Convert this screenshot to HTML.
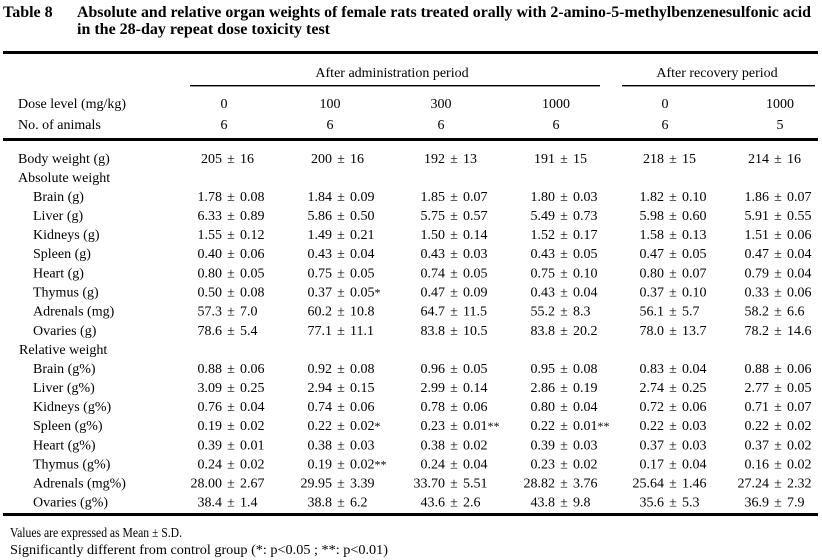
<!DOCTYPE html>
<html>
<head>
<meta charset="utf-8">
<style>
  html,body{margin:0;padding:0;background:#fff;}
  svg{display:block;}
  text{fill:#000;}
  .l{text-anchor:end;}
  .p{text-anchor:middle;}
  .s{font-size:12px;}
</style>
</head>
<body>
<svg width="822" height="560" viewBox="0 0 822 560" xmlns="http://www.w3.org/2000/svg" font-family="'Liberation Serif', serif" font-size="14">
  <rect x="0" y="0" width="822" height="560" fill="#fff"/>

  <!-- Title -->
  <text x="3" y="17" font-weight="bold" font-size="16">Table 8</text>
  <text x="77" y="17" font-weight="bold" font-size="16" textLength="734" lengthAdjust="spacingAndGlyphs">Absolute and relative organ weights of female rats treated orally with 2-amino-5-methylbenzenesulfonic acid</text>
  <text x="77" y="34" font-weight="bold" font-size="16">in the 28-day repeat dose toxicity test</text>

  <!-- Rules -->
  <rect x="3" y="51" width="815" height="3" fill="#000"/>
  <rect x="190" y="85" width="410" height="1.4" fill="#000"/>
  <rect x="622" y="85" width="193" height="1.4" fill="#000"/>
  <rect x="3" y="138" width="815" height="3" fill="#000"/>
  <rect x="3" y="513" width="815" height="3" fill="#000"/>

  <!-- Header -->
  <text x="392" y="77" class="p">After administration period</text>
  <text x="717" y="77" class="p">After recovery period</text>

  <text x="18" y="108">Dose level (mg/kg)</text>
  <text x="224" y="108" class="p">0</text>
  <text x="330" y="108" class="p">100</text>
  <text x="441" y="108" class="p">300</text>
  <text x="556" y="108" class="p">1000</text>
  <text x="665" y="108" class="p">0</text>
  <text x="780" y="108" class="p">1000</text>

  <text x="18" y="129">No. of animals</text>
  <text x="224" y="129" class="p">6</text>
  <text x="330" y="129" class="p">6</text>
  <text x="441" y="129" class="p">6</text>
  <text x="556" y="129" class="p">6</text>
  <text x="665" y="129" class="p">6</text>
  <text x="780" y="129" class="p">5</text>

  <!-- Body weight -->
  <g transform="translate(0,163)">
    <text x="18">Body weight (g)</text>
    <text x="222" class="l">205</text><text x="231" class="p">±</text><text x="240">16</text>
    <text x="332" class="l">200</text><text x="341" class="p">±</text><text x="350">16</text>
    <text x="445" class="l">192</text><text x="454" class="p">±</text><text x="463">13</text>
    <text x="555" class="l">191</text><text x="564" class="p">±</text><text x="573">15</text>
    <text x="664" class="l">218</text><text x="673" class="p">±</text><text x="682">15</text>
    <text x="769" class="l">214</text><text x="778" class="p">±</text><text x="787">16</text>
  </g>

  <text x="18" y="182">Absolute weight</text>

  <g transform="translate(0,201)">
    <text x="33">Brain (g)</text>
    <text x="222" class="l">1.78</text><text x="231" class="p">±</text><text x="240">0.08</text>
    <text x="332" class="l">1.84</text><text x="341" class="p">±</text><text x="350">0.09</text>
    <text x="445" class="l">1.85</text><text x="454" class="p">±</text><text x="463">0.07</text>
    <text x="555" class="l">1.80</text><text x="564" class="p">±</text><text x="573">0.03</text>
    <text x="664" class="l">1.82</text><text x="673" class="p">±</text><text x="682">0.10</text>
    <text x="769" class="l">1.86</text><text x="778" class="p">±</text><text x="787">0.07</text>
  </g>
  <g transform="translate(0,220)">
    <text x="33">Liver (g)</text>
    <text x="222" class="l">6.33</text><text x="231" class="p">±</text><text x="240">0.89</text>
    <text x="332" class="l">5.86</text><text x="341" class="p">±</text><text x="350">0.50</text>
    <text x="445" class="l">5.75</text><text x="454" class="p">±</text><text x="463">0.57</text>
    <text x="555" class="l">5.49</text><text x="564" class="p">±</text><text x="573">0.73</text>
    <text x="664" class="l">5.98</text><text x="673" class="p">±</text><text x="682">0.60</text>
    <text x="769" class="l">5.91</text><text x="778" class="p">±</text><text x="787">0.55</text>
  </g>
  <g transform="translate(0,239)">
    <text x="33">Kidneys (g)</text>
    <text x="222" class="l">1.55</text><text x="231" class="p">±</text><text x="240">0.12</text>
    <text x="332" class="l">1.49</text><text x="341" class="p">±</text><text x="350">0.21</text>
    <text x="445" class="l">1.50</text><text x="454" class="p">±</text><text x="463">0.14</text>
    <text x="555" class="l">1.52</text><text x="564" class="p">±</text><text x="573">0.17</text>
    <text x="664" class="l">1.58</text><text x="673" class="p">±</text><text x="682">0.13</text>
    <text x="769" class="l">1.51</text><text x="778" class="p">±</text><text x="787">0.06</text>
  </g>
  <g transform="translate(0,258)">
    <text x="33">Spleen (g)</text>
    <text x="222" class="l">0.40</text><text x="231" class="p">±</text><text x="240">0.06</text>
    <text x="332" class="l">0.43</text><text x="341" class="p">±</text><text x="350">0.04</text>
    <text x="445" class="l">0.43</text><text x="454" class="p">±</text><text x="463">0.03</text>
    <text x="555" class="l">0.43</text><text x="564" class="p">±</text><text x="573">0.05</text>
    <text x="664" class="l">0.47</text><text x="673" class="p">±</text><text x="682">0.05</text>
    <text x="769" class="l">0.47</text><text x="778" class="p">±</text><text x="787">0.04</text>
  </g>
  <g transform="translate(0,277.5)">
    <text x="33">Heart (g)</text>
    <text x="222" class="l">0.80</text><text x="231" class="p">±</text><text x="240">0.05</text>
    <text x="332" class="l">0.75</text><text x="341" class="p">±</text><text x="350">0.05</text>
    <text x="445" class="l">0.74</text><text x="454" class="p">±</text><text x="463">0.05</text>
    <text x="555" class="l">0.75</text><text x="564" class="p">±</text><text x="573">0.10</text>
    <text x="664" class="l">0.80</text><text x="673" class="p">±</text><text x="682">0.07</text>
    <text x="769" class="l">0.79</text><text x="778" class="p">±</text><text x="787">0.04</text>
  </g>
  <g transform="translate(0,296.5)">
    <text x="33">Thymus (g)</text>
    <text x="222" class="l">0.50</text><text x="231" class="p">±</text><text x="240">0.08</text>
    <text x="332" class="l">0.37</text><text x="341" class="p">±</text><text x="350">0.05<tspan class="s">*</tspan></text>
    <text x="445" class="l">0.47</text><text x="454" class="p">±</text><text x="463">0.09</text>
    <text x="555" class="l">0.43</text><text x="564" class="p">±</text><text x="573">0.04</text>
    <text x="664" class="l">0.37</text><text x="673" class="p">±</text><text x="682">0.10</text>
    <text x="769" class="l">0.33</text><text x="778" class="p">±</text><text x="787">0.06</text>
  </g>
  <g transform="translate(0,315.5)">
    <text x="33">Adrenals (mg)</text>
    <text x="222" class="l">57.3</text><text x="231" class="p">±</text><text x="240">7.0</text>
    <text x="332" class="l">60.2</text><text x="341" class="p">±</text><text x="350">10.8</text>
    <text x="445" class="l">64.7</text><text x="454" class="p">±</text><text x="463">11.5</text>
    <text x="555" class="l">55.2</text><text x="564" class="p">±</text><text x="573">8.3</text>
    <text x="664" class="l">56.1</text><text x="673" class="p">±</text><text x="682">5.7</text>
    <text x="769" class="l">58.2</text><text x="778" class="p">±</text><text x="787">6.6</text>
  </g>
  <g transform="translate(0,335)">
    <text x="33">Ovaries (g)</text>
    <text x="222" class="l">78.6</text><text x="231" class="p">±</text><text x="240">5.4</text>
    <text x="332" class="l">77.1</text><text x="341" class="p">±</text><text x="350">11.1</text>
    <text x="445" class="l">83.8</text><text x="454" class="p">±</text><text x="463">10.5</text>
    <text x="555" class="l">83.8</text><text x="564" class="p">±</text><text x="573">20.2</text>
    <text x="664" class="l">78.0</text><text x="673" class="p">±</text><text x="682">13.7</text>
    <text x="769" class="l">78.2</text><text x="778" class="p">±</text><text x="787">14.6</text>
  </g>

  <text x="19" y="354">Relative weight</text>

  <g transform="translate(0,373)">
    <text x="33">Brain (g%)</text>
    <text x="222" class="l">0.88</text><text x="231" class="p">±</text><text x="240">0.06</text>
    <text x="332" class="l">0.92</text><text x="341" class="p">±</text><text x="350">0.08</text>
    <text x="445" class="l">0.96</text><text x="454" class="p">±</text><text x="463">0.05</text>
    <text x="555" class="l">0.95</text><text x="564" class="p">±</text><text x="573">0.08</text>
    <text x="664" class="l">0.83</text><text x="673" class="p">±</text><text x="682">0.04</text>
    <text x="769" class="l">0.88</text><text x="778" class="p">±</text><text x="787">0.06</text>
  </g>
  <g transform="translate(0,392)">
    <text x="33">Liver (g%)</text>
    <text x="222" class="l">3.09</text><text x="231" class="p">±</text><text x="240">0.25</text>
    <text x="332" class="l">2.94</text><text x="341" class="p">±</text><text x="350">0.15</text>
    <text x="445" class="l">2.99</text><text x="454" class="p">±</text><text x="463">0.14</text>
    <text x="555" class="l">2.86</text><text x="564" class="p">±</text><text x="573">0.19</text>
    <text x="664" class="l">2.74</text><text x="673" class="p">±</text><text x="682">0.25</text>
    <text x="769" class="l">2.77</text><text x="778" class="p">±</text><text x="787">0.05</text>
  </g>
  <g transform="translate(0,411)">
    <text x="33">Kidneys (g%)</text>
    <text x="222" class="l">0.76</text><text x="231" class="p">±</text><text x="240">0.04</text>
    <text x="332" class="l">0.74</text><text x="341" class="p">±</text><text x="350">0.06</text>
    <text x="445" class="l">0.78</text><text x="454" class="p">±</text><text x="463">0.06</text>
    <text x="555" class="l">0.80</text><text x="564" class="p">±</text><text x="573">0.04</text>
    <text x="664" class="l">0.72</text><text x="673" class="p">±</text><text x="682">0.06</text>
    <text x="769" class="l">0.71</text><text x="778" class="p">±</text><text x="787">0.07</text>
  </g>
  <g transform="translate(0,430)">
    <text x="33">Spleen (g%)</text>
    <text x="222" class="l">0.19</text><text x="231" class="p">±</text><text x="240">0.02</text>
    <text x="332" class="l">0.22</text><text x="341" class="p">±</text><text x="350">0.02<tspan class="s">*</tspan></text>
    <text x="445" class="l">0.23</text><text x="454" class="p">±</text><text x="463">0.01<tspan class="s">**</tspan></text>
    <text x="555" class="l">0.22</text><text x="564" class="p">±</text><text x="573">0.01<tspan class="s">**</tspan></text>
    <text x="664" class="l">0.22</text><text x="673" class="p">±</text><text x="682">0.03</text>
    <text x="769" class="l">0.22</text><text x="778" class="p">±</text><text x="787">0.02</text>
  </g>
  <g transform="translate(0,449.5)">
    <text x="33">Heart (g%)</text>
    <text x="222" class="l">0.39</text><text x="231" class="p">±</text><text x="240">0.01</text>
    <text x="332" class="l">0.38</text><text x="341" class="p">±</text><text x="350">0.03</text>
    <text x="445" class="l">0.38</text><text x="454" class="p">±</text><text x="463">0.02</text>
    <text x="555" class="l">0.39</text><text x="564" class="p">±</text><text x="573">0.03</text>
    <text x="664" class="l">0.37</text><text x="673" class="p">±</text><text x="682">0.03</text>
    <text x="769" class="l">0.37</text><text x="778" class="p">±</text><text x="787">0.02</text>
  </g>
  <g transform="translate(0,468.5)">
    <text x="33">Thymus (g%)</text>
    <text x="222" class="l">0.24</text><text x="231" class="p">±</text><text x="240">0.02</text>
    <text x="332" class="l">0.19</text><text x="341" class="p">±</text><text x="350">0.02<tspan class="s">**</tspan></text>
    <text x="445" class="l">0.24</text><text x="454" class="p">±</text><text x="463">0.04</text>
    <text x="555" class="l">0.23</text><text x="564" class="p">±</text><text x="573">0.02</text>
    <text x="664" class="l">0.17</text><text x="673" class="p">±</text><text x="682">0.04</text>
    <text x="769" class="l">0.16</text><text x="778" class="p">±</text><text x="787">0.02</text>
  </g>
  <g transform="translate(0,487.5)">
    <text x="33">Adrenals (mg%)</text>
    <text x="222" class="l">28.00</text><text x="231" class="p">±</text><text x="240">2.67</text>
    <text x="332" class="l">29.95</text><text x="341" class="p">±</text><text x="350">3.39</text>
    <text x="445" class="l">33.70</text><text x="454" class="p">±</text><text x="463">5.51</text>
    <text x="555" class="l">28.82</text><text x="564" class="p">±</text><text x="573">3.76</text>
    <text x="664" class="l">25.64</text><text x="673" class="p">±</text><text x="682">1.46</text>
    <text x="769" class="l">27.24</text><text x="778" class="p">±</text><text x="787">2.32</text>
  </g>
  <g transform="translate(0,506.5)">
    <text x="33">Ovaries (g%)</text>
    <text x="222" class="l">38.4</text><text x="231" class="p">±</text><text x="240">1.4</text>
    <text x="332" class="l">38.8</text><text x="341" class="p">±</text><text x="350">6.2</text>
    <text x="445" class="l">43.6</text><text x="454" class="p">±</text><text x="463">2.6</text>
    <text x="555" class="l">43.8</text><text x="564" class="p">±</text><text x="573">9.8</text>
    <text x="664" class="l">35.6</text><text x="673" class="p">±</text><text x="682">5.3</text>
    <text x="769" class="l">36.9</text><text x="778" class="p">±</text><text x="787">7.9</text>
  </g>

  <!-- Footer -->
  <text x="10" y="537" textLength="172" lengthAdjust="spacingAndGlyphs">Values are expressed as Mean ± S.D.</text>
  <text x="10" y="554" textLength="378" lengthAdjust="spacingAndGlyphs">Significantly different from control group (*: p&lt;0.05 ; **: p&lt;0.01)</text>
</svg>
</body>
</html>
